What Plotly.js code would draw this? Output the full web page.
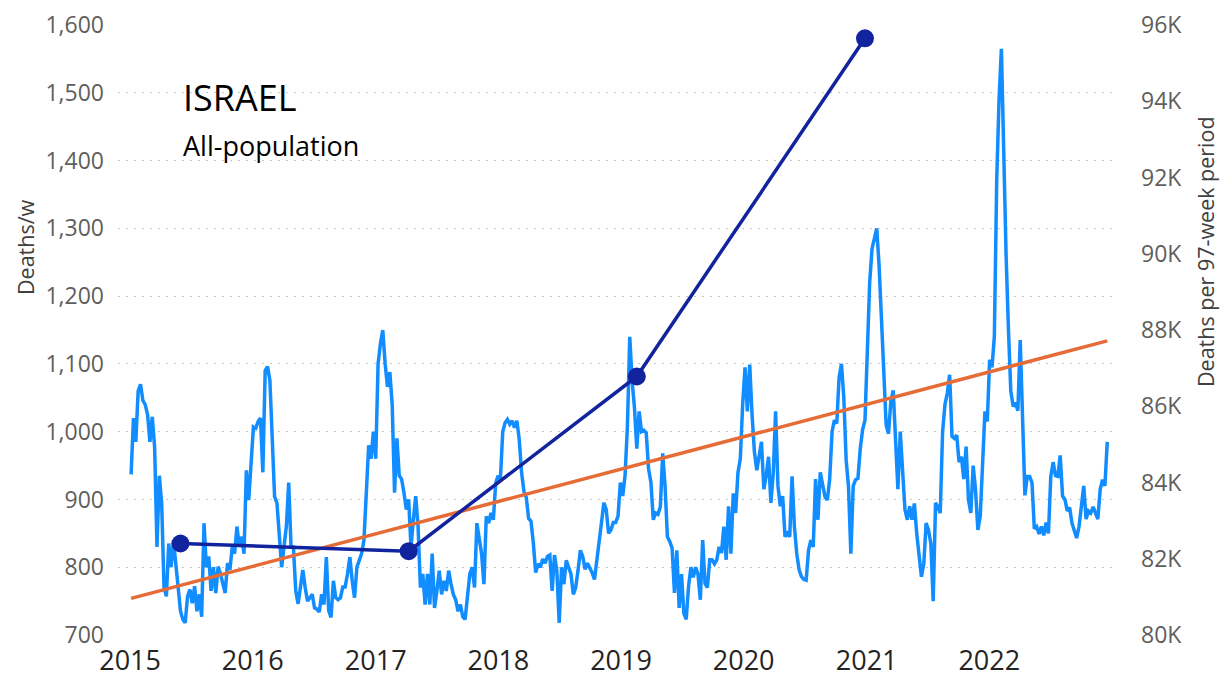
<!DOCTYPE html>
<html>
<head>
<meta charset="utf-8">
<script src="https://cdn.plot.ly/plotly-3.0.1.min.js"></script>
<style>
  html, body { margin: 0; padding: 0; background: #ffffff; }
  #chart { width: 1223px; height: 686px; }
</style>
</head>
<body>
<div id="chart"></div>
<script>
// Weekly deaths (Israel, all population), first week starting 2015-01-04
const startDate = "2015-01-04";
const deaths2015 = [937, 1020, 985, 1060, 1070, 1046, 1040, 1025, 985, 1022, 977, 830, 935, 894, 770, 757, 835, 800, 840, 800, 760, 735, 723, 718, 757, 767, 747, 772, 735, 760, 727, 865, 800, 816, 765, 800, 762, 801, 790, 776, 762, 806, 796, 830, 820, 860, 830, 845, 820, 943, 899, 953, 1007];
const deaths2016 = [1005, 1015, 1020, 940, 1090, 1096, 1076, 1000, 904, 895, 840, 800, 830, 860, 925, 830, 830, 765, 746, 775, 796, 770, 750, 755, 760, 740, 738, 734, 760, 745, 815, 736, 726, 780, 755, 752, 755, 771, 771, 790, 815, 780, 755, 800, 810, 820, 840, 920, 980, 960, 1000, 960, 1100];
const deaths2017 = [1130, 1150, 1100, 1066, 1088, 1040, 910, 990, 935, 930, 910, 885, 900, 830, 870, 905, 860, 770, 790, 745, 790, 745, 820, 740, 765, 795, 760, 780, 765, 795, 775, 760, 752, 735, 745, 727, 723, 755, 790, 800, 770, 865, 845, 820, 775, 875, 865, 880, 870, 924, 935, 930, 1000];
const deaths2018 = [1013, 1018, 1011, 1016, 1006, 1016, 989, 940, 912, 903, 872, 868, 836, 792, 805, 800, 812, 806, 816, 818, 765, 818, 795, 718, 800, 775, 810, 800, 790, 760, 770, 795, 825, 816, 797, 806, 800, 792, 782, 812, 831, 862, 895, 885, 850, 855, 866, 866, 875, 925, 905, 935, 1008];
const deaths2019 = [1140, 1075, 1035, 975, 1030, 1000, 1002, 998, 945, 925, 870, 880, 878, 889, 968, 920, 845, 838, 828, 762, 825, 740, 790, 732, 723, 772, 800, 785, 800, 790, 752, 840, 776, 770, 811, 811, 805, 811, 830, 821, 860, 811, 890, 820, 909, 880, 940, 960, 1040, 1095, 1030, 1099];
const deaths2020 = [1025, 970, 943, 965, 985, 915, 935, 963, 895, 938, 1030, 920, 890, 905, 845, 850, 845, 934, 860, 820, 796, 786, 782, 781, 825, 840, 830, 930, 870, 940, 919, 904, 899, 930, 1000, 1017, 1012, 1080, 1100, 1050, 958, 919, 820, 920, 929, 931, 975, 1003, 1017, 1110, 1220, 1270];
const deaths2021 = [1283, 1300, 1245, 1170, 1080, 1010, 997, 1045, 1061, 980, 915, 1000, 934, 885, 870, 890, 870, 894, 850, 812, 786, 805, 865, 855, 835, 750, 895, 889, 880, 1000, 1040, 1057, 1084, 993, 990, 995, 955, 963, 930, 978, 900, 880, 950, 914, 855, 875, 943, 1030, 1015, 1106, 1095, 1140];
const deaths2022 = [1370, 1490, 1565, 1400, 1260, 1150, 1060, 1037, 1043, 1031, 1135, 1020, 906, 934, 934, 925, 857, 860, 849, 860, 847, 866, 850, 934, 955, 935, 934, 965, 905, 900, 883, 888, 865, 854, 843, 860, 895, 920, 871, 883, 880, 889, 880, 871, 915, 929, 920, 985];

// Deaths per 97-week period (right axis)
const periodDates = ["2015-05-31", "2017-04-09", "2019-02-17", "2020-12-27"];
const periodDeaths = [82400, 82200, 86780, 95650];

// Linear trend of weekly deaths (start, end)
const trendValues = [754, 1134];

// Axis ticks
const yearTicks = ["2015-01-01","2016-01-01","2017-01-01","2018-01-01","2019-01-01","2020-01-01","2021-01-01","2022-01-01"];
const yearLabels = ["2015","2016","2017","2018","2019","2020","2021","2022"];
const leftTicks = [700, 800, 900, 1000, 1100, 1200, 1300, 1400, 1500, 1600];
const rightTicks = [80000, 82000, 84000, 86000, 88000, 90000, 92000, 94000, 96000];
const rightLabels = ["80K","82K","84K","86K","88K","90K","92K","94K","96K"];

const weekly = [].concat(deaths2015, deaths2016, deaths2017, deaths2018, deaths2019, deaths2020, deaths2021, deaths2022);
const t0 = Date.parse(startDate + "T00:00:00Z");
const weekDates = weekly.map((_, i) => new Date(t0 + i * 7 * 86400000).toISOString().slice(0, 10));

const FONT = "Open Sans, Noto Sans, sans-serif";

const traces = [
  { type: "scatter", mode: "lines", x: weekDates, y: weekly, yaxis: "y",
    line: { color: "#118DFF", width: 3.5 }, hoverinfo: "x+y" },
  { type: "scatter", mode: "lines+markers", x: periodDates, y: periodDeaths, yaxis: "y2",
    line: { color: "#12239E", width: 3.5 }, marker: { color: "#12239E", size: 18 } },
  { type: "scatter", mode: "lines", x: [weekDates[0], weekDates[weekDates.length - 1]], y: trendValues, yaxis: "y",
    line: { color: "#E66C37", width: 3.5 } }
];

const W = 1000, L = 118, T = 25, H = 610;
const px = (x) => (x - L) / W;
const py = (y) => (T + H - y) / H;

const layout = {
  width: 1223, height: 686,
  margin: { l: L, r: 1223 - L - W, t: T, b: 686 - T - H, pad: 0 },
  paper_bgcolor: "#ffffff", plot_bgcolor: "#ffffff",
  showlegend: false,
  font: { family: FONT },
  xaxis: {
    type: "date", range: ["2014-11-26", "2023-01-19"],
    tickmode: "array", tickvals: yearTicks, ticktext: yearLabels,
    tickfont: { size: 27, color: "#252423", family: FONT },
    showgrid: false, zeroline: false, showline: false, ticks: "",
    ticklabelstandoff: 7
  },
  yaxis: {
    range: [700, 1600], tickmode: "array", tickvals: leftTicks, tickformat: ",d",
    tickfont: { size: 23, color: "#605E5C", family: FONT },
    showgrid: true, gridcolor: "#C8C6C4", gridwidth: 1, griddash: "2px,6px",
    zeroline: false, showline: false, ticks: "", ticklabelstandoff: 13
  },
  yaxis2: {
    overlaying: "y", side: "right", range: [80000, 96000],
    tickmode: "array", tickvals: rightTicks, ticktext: rightLabels,
    tickfont: { size: 23, color: "#605E5C", family: FONT },
    showgrid: false, zeroline: false, showline: false, ticks: "", ticklabelstandoff: 22
  },
  annotations: [
    { text: "Deaths/w", xref: "paper", yref: "paper", x: px(25), y: py(247), textangle: -90,
      xanchor: "center", yanchor: "middle", showarrow: false, font: { size: 21.5, color: "#404040", family: FONT } },
    { text: "Deaths per 97-week period", xref: "paper", yref: "paper", x: px(1205), y: py(252), textangle: -90,
      xanchor: "center", yanchor: "middle", showarrow: false, font: { size: 21.5, color: "#404040", family: FONT } },
    { text: "ISRAEL", xref: "paper", yref: "paper", x: px(181), y: py(98),
      xanchor: "left", yanchor: "middle", showarrow: false, font: { size: 36, color: "#000000", family: FONT } },
    { text: "All-population", xref: "paper", yref: "paper", x: px(181), y: py(145),
      xanchor: "left", yanchor: "middle", showarrow: false, font: { size: 27, color: "#000000", family: FONT } }
  ]
};

Plotly.newPlot("chart", traces, layout, { displayModeBar: false, staticPlot: true });
</script>
</body>
</html>
